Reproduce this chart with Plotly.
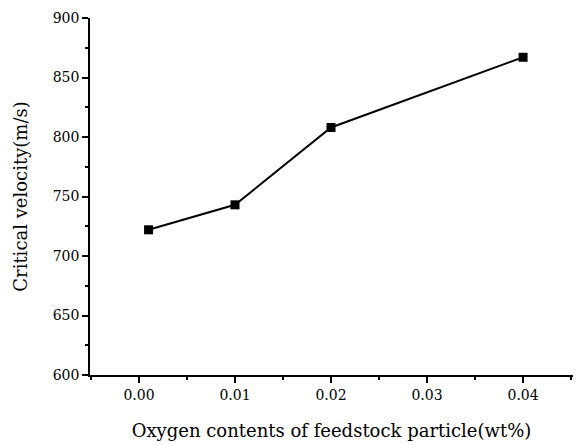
import plotly.graph_objects as go

oxygen_wt = [0.001, 0.01, 0.02, 0.04]
critical_velocity = [722, 743, 808, 867]

x_tickvals = [0.00, 0.01, 0.02, 0.03, 0.04]
x_ticktext = ["0.00", "0.01", "0.02", "0.03", "0.04"]
y_tickvals = [600, 650, 700, 750, 800, 850, 900]

FONT = "DejaVu Serif"

fig = go.Figure()
fig.add_trace(go.Scatter(
    x=oxygen_wt, y=critical_velocity,
    mode="lines+markers",
    line=dict(color="black", width=2),
    marker=dict(symbol="square", size=9, color="black"),
    showlegend=False,
))

fig.update_layout(
    width=577, height=445,
    margin=dict(l=90, r=4, t=18, b=70),
    paper_bgcolor="white", plot_bgcolor="white",
    font=dict(family=FONT, color="black", size=14),
)
fig.update_xaxes(
    range=[-0.0051, 0.0452],
    tickvals=x_tickvals, ticktext=x_ticktext,
    showline=True, linecolor="black", linewidth=1.5,
    ticks="outside", ticklen=6, tickwidth=1.5, tickcolor="black",
    minor=dict(ticks="outside", ticklen=3, dtick=0.005, tick0=0, tickcolor="black", showgrid=False),
    showgrid=False, zeroline=False,
    tickfont=dict(family=FONT, size=14),
    title=dict(text="Oxygen contents of feedstock particle(wt%)", font=dict(family=FONT, size=18), standoff=23),
)
fig.update_yaxes(
    range=[600, 900],
    tickvals=y_tickvals,
    showline=True, linecolor="black", linewidth=1.5,
    ticks="outside", ticklen=6, tickwidth=1.5, tickcolor="black",
    minor=dict(ticks="outside", ticklen=3, dtick=25, tick0=600, tickcolor="black", showgrid=False),
    showgrid=False, zeroline=False,
    tickfont=dict(family=FONT, size=14),
    title=dict(text="Critical velocity(m/s)", font=dict(family=FONT, size=18), standoff=20),
)

fig.write_html("out.html")
